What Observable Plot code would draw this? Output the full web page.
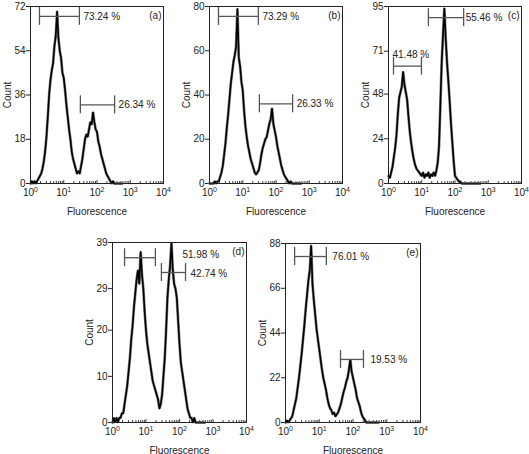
<!DOCTYPE html>
<html><head><meta charset="utf-8">
<script src="https://cdn.jsdelivr.net/npm/d3@7"></script>
<script src="https://cdn.jsdelivr.net/npm/@observablehq/plot@0.6"></script>
<style>
body{margin:0;background:#fff;}
#chart{position:relative;width:529px;height:454px;background:#fff;font-family:"Liberation Sans",Arial,sans-serif;}
</style>
</head><body><div id="chart"></div>
<script>
// channel positions (log10 of fluorescence)
const decades = [
 0.00,0.04,0.08,0.12,0.16,0.20,0.24,0.28,0.32,0.36,
 0.40,0.44,0.48,0.52,0.56,0.60,0.64,0.68,0.72,0.76,
 0.80,0.84,0.88,0.92,0.96,1.00,1.04,1.08,1.12,1.16,
 1.20,1.24,1.28,1.32,1.36,1.40,1.44,1.48,1.52,1.56,
 1.60,1.64,1.68,1.72,1.76,1.80,1.84,1.88,1.92,1.96,
 2.00,2.04,2.08,2.12,2.16,2.20,2.24,2.28,2.32,2.36,
 2.40,2.44,2.48,2.52,2.56,2.60,2.64,2.68,2.72,2.76];
const decadeTicks = [0,1,2,3,4];
const decadeTickLabels = ["10^0","10^1","10^2","10^3","10^4"];
const minorTickValues = [2,3,4,5,6,7,8,9,20,30,40,50,60,70,80,90,200,300,400,500,600,700,800,900,2000,3000,4000,5000,6000,7000,8000,9000];
const panelTags = ["(a)","(b)","(c)","(d)","(e)"];

const countsA = [
 0,1,0,1,0,1,2,3,4,6,
 9,13,19,27,36,42,46,49,56,60,
 70,59,54,51,45,43,38,32,27,22,
 18,13,10,8,6,4,5,4,7,10,
 14,18,20,19,22,25,24,29,25,22,
 21,17,15,12,10,8,6,4,3,2,
 1,0,1,0,0,0,0,0,0,0];
const countsB = [
 0,0,0,0,1,0,1,1,3,5,
 8,13,18,25,31,38,45,50,55,58,
 62,79,57,53,46,42,33,26,21,17,
 14,11,9,7,5,4,5,6,9,13,
 16,18,20,21,24,27,29,34,27,24,
 21,17,14,11,8,6,4,3,2,1,
 0,1,0,0,0,0,0,0,0,0];
const countsC = [
 4,3,6,9,14,19,26,37,46,49,
 52,60,53,49,45,36,28,22,17,13,
 10,8,7,6,5,4,6,3,5,4,
 6,3,5,4,6,4,7,11,20,42,
 65,80,94,78,65,55,44,32,22,12,
 4,3,2,1,1,0,0,0,0,0,
 0,0,0,0,0,0,0,0,0,0];
const countsD = [
 0,1,0,1,0,1,1,2,2,4,
 6,8,11,14,18,21,25,28,31,33,
 30,37,32,29,24,20,17,15,13,11,
 9,8,7,6,5,3,4,6,10,14,
 20,27,31,34,39,33,30,29,27,22,
 17,13,11,9,7,5,3,2,1,1,
 0,1,0,0,0,0,0,0,0,0];
const countsE = [
 0,1,0,1,2,3,6,9,12,17,
 22,28,34,41,48,56,63,70,75,87,
 68,60,53,46,41,36,31,26,22,19,
 16,12,9,7,6,4,5,3,4,5,
 7,9,12,15,17,20,22,26,31,25,
 22,19,16,12,10,8,5,3,2,1,
 0,0,0,0,0,0,0,0,0,0];

const yTicksA = [0,18,36,54,72];
const yTicksB = [0,20,40,60,80];
const yTicksC = [0,24,48,71,95];
const yTicksD = [0,10,20,29,39];
const yTicksE = [0,22,44,66,88];

// gates (log10 bounds, count level, label)
const gateLoA = [0.27,1.50], gateHiA = [1.47,2.53], gateYA = [68,32],   gateLabelA = ["73.24 %","26.34 %"];
const gateLoB = [0.27,1.50], gateHiB = [1.47,2.50], gateYB = [75.5,36], gateLabelB = ["73.29 %","26.33 %"];
const gateLoC = [1.20,0.15], gateHiC = [2.26,0.99], gateYC = [89,63],   gateLabelC = ["55.46 %","41.48 %"];
const gateLoD = [0.36,1.46], gateHiD = [1.28,2.18], gateYD = [35.7,32.5], gateLabelD = ["51.98 %","42.74 %"];
const gateLoE = [0.27,1.63], gateHiE = [1.21,2.31], gateYE = [81.6,31], gateLabelE = ["76.01 %","19.53 %"];

// layout (frame position in page pixels, label placement)
const layout = [
  {left:30,  top:6,   w:133, h:177, anchor:["hi","hi"], dx:[4,4],  dy:[0,0]},
  {left:209, top:6,   w:133, h:177, anchor:["hi","hi"], dx:[4,4],  dy:[0,0]},
  {left:388, top:6,   w:133, h:177, anchor:["hi","lo"], dx:[2,-1], dy:[0,-11]},
  {left:112, top:242, w:134, h:180, anchor:["hi","hi"], dx:[27,5], dy:[-3,1]},
  {left:285, top:243, w:135, h:179, anchor:["hi","hi"], dx:[6,7],  dy:[0,0]}
];

const panels = [
  {tag: panelTags[0], counts: countsA, yTicks: yTicksA, lo: gateLoA, hi: gateHiA, gy: gateYA, gl: gateLabelA},
  {tag: panelTags[1], counts: countsB, yTicks: yTicksB, lo: gateLoB, hi: gateHiB, gy: gateYB, gl: gateLabelB},
  {tag: panelTags[2], counts: countsC, yTicks: yTicksC, lo: gateLoC, hi: gateHiC, gy: gateYC, gl: gateLabelC},
  {tag: panelTags[3], counts: countsD, yTicks: yTicksD, lo: gateLoD, hi: gateHiD, gy: gateYD, gl: gateLabelD},
  {tag: panelTags[4], counts: countsE, yTicks: yTicksE, lo: gateLoE, hi: gateHiE, gy: gateYE, gl: gateLabelE}
];

const chart = document.getElementById("chart");
const ML = 30, MT = 6, MR = 4, MB = 36;
const minorDec = minorTickValues.map(Math.log10);
const SVGNS = "http://www.w3.org/2000/svg";

panels.forEach((p, k) => {
  const L = layout[k];
  const data = decades.map((v, i) => ({v, c: p.counts[i]}));
  const gates = p.lo.map((lo, i) => ({lo, hi: p.hi[i], y: p.gy[i], label: p.gl[i]}));
  const gateStyle = {stroke: "#555", strokeWidth: 1.3};
  const marks = [
    Plot.ruleX(minorDec, {x: d => d, y1: 0, y2: 0, insetTop: -2, stroke: "#444"}),
    Plot.ruleX(decadeTicks, {x: d => d, y1: 0, y2: 0, insetTop: -3, stroke: "#444"}),
    Plot.axisY({ticks: p.yTicks, tickSize: 4, tickPadding: 1, label: "Count", labelAnchor: "center", labelArrow: "none", labelOffset: 27}),
    Plot.axisX({ticks: decadeTicks, tickFormat: d => decadeTickLabels[d], tickSize: 0, tickPadding: 5, label: "Fluorescence", labelAnchor: "center", labelArrow: "none", labelOffset: 31}),
    Plot.line(data, {x: "v", y: "c", stroke: "#888", strokeWidth: 2.8, strokeLinejoin: "miter"}),
    Plot.line(data, {x: "v", y: "c", stroke: "#000", strokeWidth: 1.6}),
    Plot.ruleY(gates, {x1: "lo", x2: "hi", y: "y", ...gateStyle}),
    Plot.ruleX(gates, {x: "lo", y1: "y", y2: "y", insetTop: -9, insetBottom: -9, ...gateStyle}),
    Plot.ruleX(gates, {x: "hi", y1: "y", y2: "y", insetTop: -9, insetBottom: -9, ...gateStyle}),
    ...gates.map((g, i) => Plot.text([g], {x: L.anchor[i], y: "y", text: "label", textAnchor: "start", dx: L.dx[i], dy: L.dy[i], fill: "#222"})),
    Plot.text([p.tag], {text: d => d, frameAnchor: "top-right", dx: -2, dy: 9, lineAnchor: "middle", fill: "#222"}),
    Plot.frame({stroke: "#222"})
  ];
  const svg = Plot.plot({
    width: ML + L.w + MR, height: MT + L.h + MB,
    marginLeft: ML, marginTop: MT, marginRight: MR, marginBottom: MB,
    x: {domain: [0, 4]},
    y: {domain: [0, p.yTicks[p.yTicks.length - 1]]},
    style: {fontFamily: "Liberation Sans, Arial, sans-serif", fontSize: "10px", background: "transparent", color: "#222", overflow: "visible"},
    marks
  });
  // render "10^n" tick labels with a real superscript
  svg.querySelectorAll("text").forEach(t => {
    const s = t.textContent;
    const m = /^10\^(\d)$/.exec(s);
    if (!m) return;
    t.textContent = "10";
    const sup = document.createElementNS(SVGNS, "tspan");
    sup.setAttribute("dy", "-0.45em");
    sup.setAttribute("font-size", "7px");
    sup.textContent = m[1];
    t.appendChild(sup);
  });
  svg.style.position = "absolute";
  svg.style.left = (L.left - ML) + "px";
  svg.style.top = (L.top - MT) + "px";
  chart.appendChild(svg);
});
</script>
</body></html>
